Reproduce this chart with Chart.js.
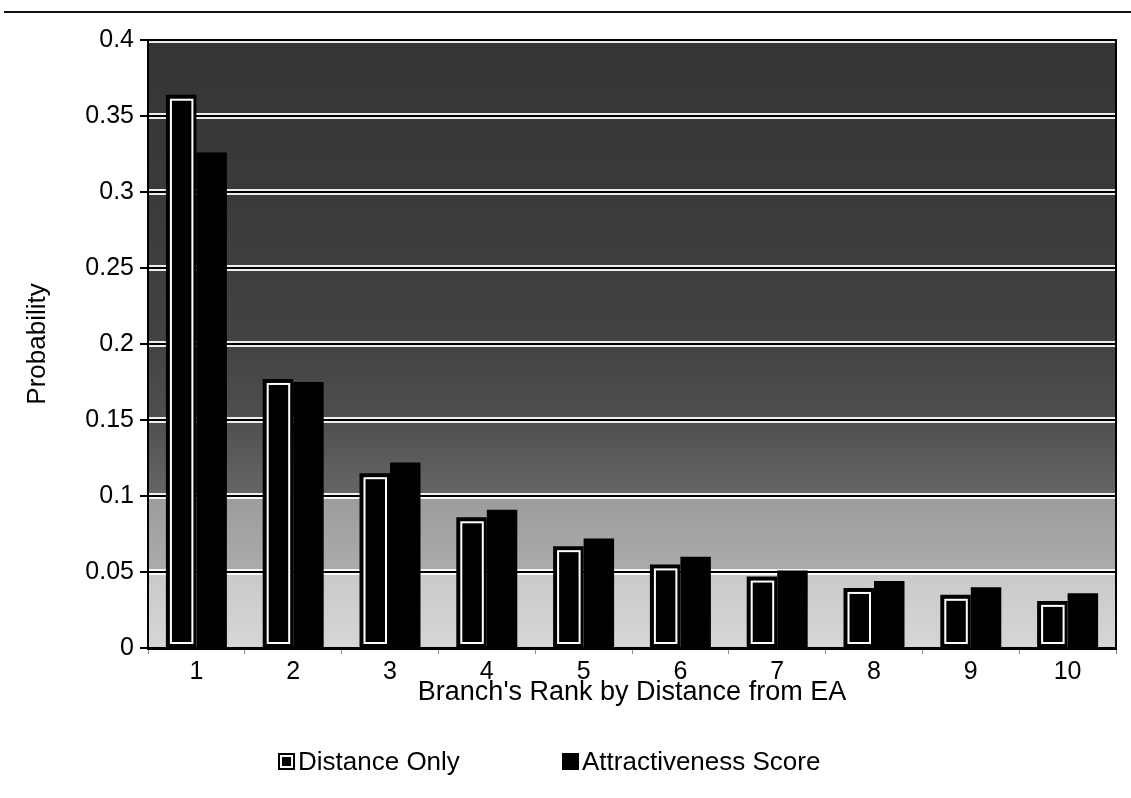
<!DOCTYPE html>
<html>
<head>
<meta charset="utf-8">
<script src="https://cdn.jsdelivr.net/npm/chart.js@4.4.1/dist/chart.umd.min.js"></script>
<style>
  html, body { margin: 0; padding: 0; background: #fff; }
  #wrap { position: relative; width: 1131px; height: 798px; overflow: hidden; }
  #rule { position: absolute; left: 4px; right: 0; top: 11px; height: 2px; background: #111; }
  #chart { position: absolute; left: 0; top: 0; }
  #legend { position: absolute; left: 0; top: 746px; width: 1131px; height: 32px;
            font-family: "Liberation Sans", Arial, sans-serif; font-size: 26px; color: #000; }
  .item { position: absolute; top: 0; display: flex; align-items: center; white-space: nowrap; }
  .swatch { width: 17px; height: 17px; box-sizing: border-box; margin-right: 3px; background: #000; }
  .swatch.outlined { box-shadow: inset 0 0 0 2px #000, inset 0 0 0 4px #fff; }
</style>
</head>
<body>
<div id="wrap">
  <div id="rule"></div>
  <canvas id="chart" width="1131" height="798"></canvas>
  <div id="legend"></div>
</div>
<script>
// Branch rank (1 = nearest branch) and the probability of choosing it
const categories = ['1', '2', '3', '4', '5', '6', '7', '8', '9', '10'];
const distanceOnly = [0.364, 0.177, 0.115, 0.086, 0.067, 0.055, 0.047, 0.0395, 0.035, 0.031];
const attractivenessScore = [0.326, 0.175, 0.122, 0.091, 0.072, 0.060, 0.051, 0.044, 0.040, 0.036];
const yTickLabels = ['0', '0.05', '0.1', '0.15', '0.2', '0.25', '0.3', '0.35', '0.4'];
const seriesNames = ['Distance Only', 'Attractiveness Score'];

const FONT = '"Liberation Sans", Arial, sans-serif';

// Shaded plot background (dark at the top, light near zero) and light halos along the gridlines
const plotBackdrop = {
  id: 'plotBackdrop',
  beforeDraw(chart) {
    const { ctx, chartArea: a, scales: { y } } = chart;
    const frac = v => (y.getPixelForValue(v) - a.top) / a.height;
    const g = ctx.createLinearGradient(0, a.top, 0, a.bottom);
    g.addColorStop(0, '#353535');
    g.addColorStop(frac(0.3), '#3a3a3a');
    g.addColorStop(frac(0.2), '#434343');
    g.addColorStop(frac(0.15), '#4f4f4f');
    g.addColorStop(frac(0.1) - 0.002, '#666666');
    g.addColorStop(frac(0.1) + 0.002, '#9c9c9c');
    g.addColorStop(frac(0.05) - 0.002, '#ababab');
    g.addColorStop(frac(0.05) + 0.002, '#c9c9c9');
    g.addColorStop(1, '#d6d6d6');
    ctx.save();
    ctx.fillStyle = g;
    ctx.fillRect(a.left, a.top, a.width, a.height);
    ctx.strokeStyle = 'rgba(255,255,255,0.9)';
    ctx.lineWidth = 6;
    y.ticks.forEach(t => {
      const py = y.getPixelForValue(t.value);
      if (py >= a.bottom - 1) return;
      ctx.beginPath();
      ctx.moveTo(a.left, py);
      ctx.lineTo(a.right, py);
      ctx.stroke();
    });
    ctx.restore();
  }
};

// White inner outline on the "Distance Only" bars, plus the top and right frame of the plot
const barDetails = {
  id: 'barDetails',
  afterDatasetsDraw(chart) {
    const { ctx, chartArea: a } = chart;
    const meta = chart.getDatasetMeta(0);
    ctx.save();
    ctx.strokeStyle = '#fff';
    ctx.lineWidth = 2;
    meta.data.forEach(bar => {
      const { x, y, base, width } = bar.getProps(['x', 'y', 'base', 'width'], true);
      const l = x - width / 2 + 5, r = x + width / 2 - 4;
      const t = y + 5, b = base - 4;
      if (b > t) ctx.strokeRect(l, t, r - l, b - t);
    });
    ctx.strokeStyle = '#000';
    ctx.lineWidth = 2;
    ctx.beginPath();
    ctx.moveTo(a.left, a.top);
    ctx.lineTo(a.right, a.top);
    ctx.lineTo(a.right, a.bottom);
    ctx.stroke();
    ctx.restore();
  }
};

const chart = new Chart(document.getElementById('chart'), {
  type: 'bar',
  data: {
    labels: categories,
    datasets: [
      { label: seriesNames[0], data: distanceOnly, backgroundColor: '#000', borderWidth: 0 },
      { label: seriesNames[1], data: attractivenessScore, backgroundColor: '#000', borderWidth: 0 }
    ]
  },
  options: {
    responsive: false,
    devicePixelRatio: 1,
    animation: false,
    layout: { padding: { left: 8, top: 40, right: 15, bottom: 80 } },
    datasets: { bar: { categoryPercentage: 0.63, barPercentage: 1.0 } },
    plugins: {
      legend: { display: false },
      tooltip: { enabled: false }
    },
    scales: {
      x: {
        afterFit(scale) { scale.height = 70; },
        grid: { offset: true, drawOnChartArea: false, drawTicks: true, tickLength: 6, color: '#888', lineWidth: 1 },
        border: { display: true, color: '#000', width: 3 },
        ticks: { color: '#000', font: { family: FONT, size: 25 }, padding: 3, maxRotation: 0 },
        title: { display: true, text: "Branch's Rank by Distance from EA", color: '#000',
                 font: { family: FONT, size: 27 }, padding: { top: 0, bottom: 9 } }
      },
      y: {
        min: 0, max: 0.4,
        afterFit(scale) { scale.width = 140; },
        grid: { color: '#000', lineWidth: 2, tickLength: 8, drawTicks: true },
        border: { display: true, color: '#000', width: 2 },
        ticks: {
          stepSize: 0.05, color: '#000', padding: 6,
          font: { family: FONT, size: 25 },
          callback: (value, index) => yTickLabels[index]
        },
        title: { display: true, text: 'Probability', color: '#000',
                 font: { family: FONT, size: 26 }, padding: { top: 14, bottom: 0 } }
      }
    }
  },
  plugins: [plotBackdrop, barDetails]
});

// Legend row under the chart, built from the chart's datasets
const legendLeft = [278, 562];
const legendEl = document.getElementById('legend');
chart.data.datasets.forEach((ds, i) => {
  const item = document.createElement('div');
  item.className = 'item';
  item.style.left = legendLeft[i] + 'px';
  const sw = document.createElement('span');
  sw.className = 'swatch' + (i === 0 ? ' outlined' : '');
  const txt = document.createElement('span');
  txt.textContent = ds.label;
  item.appendChild(sw);
  item.appendChild(txt);
  legendEl.appendChild(item);
});
</script>
</body>
</html>
